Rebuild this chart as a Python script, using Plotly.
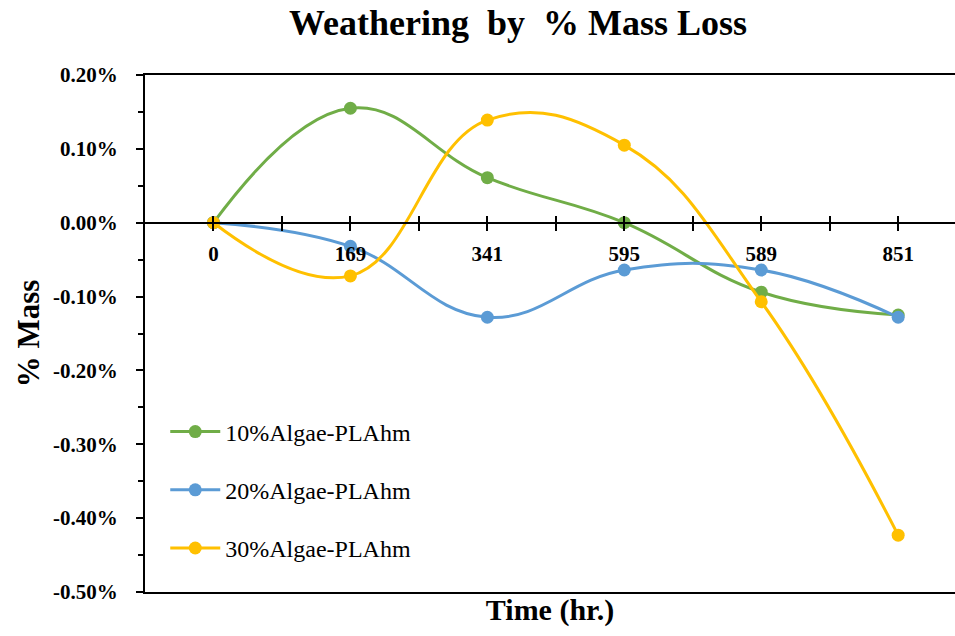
import plotly.graph_objects as go

times = ["0", "169", "341", "595", "589", "851"]
algae10 = [0.0, 0.00155, 0.00061, 0.0, -0.00094, -0.00125]
algae20 = [0.0, -0.00032, -0.00128, -0.00064, -0.00064, -0.00128]
algae30 = [0.0, -0.00072, 0.00139, 0.00105, -0.00107, -0.00423]
names = ["10%Algae-PLAhm", "20%Algae-PLAhm", "30%Algae-PLAhm"]
colors = ["#70AD47", "#5B9BD5", "#FFC000"]
ytick_vals = [0.002, 0.001, 0.0, -0.001, -0.002, -0.003, -0.004, -0.005]
ytick_text = ["0.20%", "0.10%", "0.00%", "-0.10%", "-0.20%", "-0.30%", "-0.40%", "-0.50%"]

FONT = "Liberation Serif, Times New Roman, serif"
xpos = list(range(len(times)))
half = [i + 0.5 for i in xpos]

fig = go.Figure()
for i, (nm, ys, c) in enumerate(zip(names, [algae10, algae20, algae30], colors)):
    fig.add_trace(go.Scatter(
        x=xpos, y=ys, name=nm, mode="lines+markers",
        line=dict(color=c, width=3, shape="spline", smoothing=1.2),
        marker=dict(color=c, size=13),
        legendgroup=str(i),
    ))

fig.add_trace(go.Scatter(x=xpos, y=algae10, xaxis="x2", mode="none",
                         showlegend=False, hoverinfo="skip"))
fig.add_trace(go.Scatter(x=xpos, y=algae10, xaxis="x3", mode="none",
                         showlegend=False, hoverinfo="skip"))

ymin, ymax = -0.005, 0.002
zero_pos = (0 - ymin) / (ymax - ymin)
xr = [-0.5, 5.415]

tickfont = dict(family=FONT, size=21, color="black", weight="bold")
fig.update_layout(
    width=955, height=636,
    margin=dict(l=145, r=0, t=75, b=44),
    paper_bgcolor="white", plot_bgcolor="white",
    title=dict(text="<b>Weathering  by  % Mass Loss</b>", x=518 / 955, xanchor="center",
               y=1 - 22 / 636, yanchor="middle",
               font=dict(family=FONT, size=36, color="black")),
    xaxis=dict(range=xr, tickmode="array", tickvals=xpos, ticktext=times,
               anchor="free", position=zero_pos, showline=True, linecolor="black", linewidth=2,
               ticks="outside", ticklen=7, tickwidth=2, tickcolor="black",
               minor=dict(tickmode="array", tickvals=half, ticks="outside", ticklen=7,
                          tickwidth=2, tickcolor="black"),
               showgrid=False, zeroline=False, tickfont=tickfont, ticklabelstandoff=5),
    xaxis2=dict(range=xr, overlaying="x", anchor="free", position=zero_pos,
                tickmode="array", tickvals=xpos, showticklabels=False,
                ticks="inside", ticklen=7, tickwidth=2, tickcolor="black",
                minor=dict(tickmode="array", tickvals=half, ticks="inside", ticklen=7,
                           tickwidth=2, tickcolor="black"),
                showgrid=False, zeroline=False, showline=False),
    xaxis3=dict(range=xr, overlaying="x", anchor="y", side="bottom",
                showline=True, mirror=True, linecolor="black", linewidth=2,
                showticklabels=False, ticks="", showgrid=False, zeroline=False,
                title=dict(text="<b>Time (hr.)</b>", font=dict(family=FONT, size=30, color="black"),
                           standoff=6)),
    yaxis=dict(range=[ymin, ymax], tickmode="array", tickvals=ytick_vals, ticktext=ytick_text,
               showline=True, linecolor="black", linewidth=2,
               ticks="outside", ticklen=7, tickwidth=2, tickcolor="black",
               minor=dict(tickmode="linear", tick0=0, dtick=0.0005, ticks="outside", ticklen=5,
                          tickwidth=2, tickcolor="black"),
               showgrid=False, zeroline=False, tickfont=tickfont, ticklabelstandoff=14,
               title=dict(text="<b>% Mass</b>", font=dict(family=FONT, size=31, color="black"),
                          standoff=4)),
    legend=dict(x=0.025, y=0.353, xanchor="left", yanchor="top",
                bgcolor="rgba(0,0,0,0)", font=dict(family=FONT, size=24, color="black"),
                tracegroupgap=24, itemwidth=50, traceorder="grouped"),
    showlegend=True,
)

fig.write_html("out.html")
